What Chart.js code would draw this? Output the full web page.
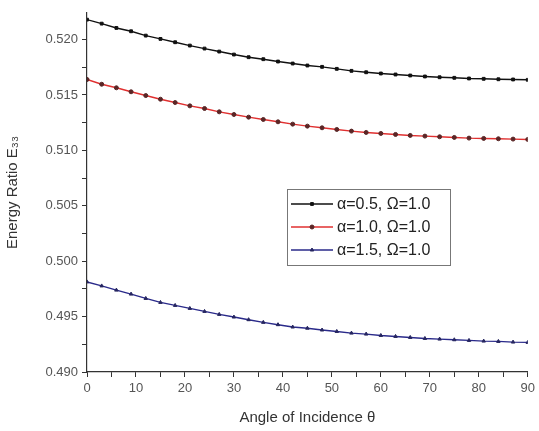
<!DOCTYPE html>
<html>
<head>
<meta charset="utf-8">
<script src="https://cdn.jsdelivr.net/npm/chart.js@4.4.1/dist/chart.umd.min.js"></script>
<style>
  html, body { margin: 0; padding: 0; background: #fff; }
  #wrap { width: 539px; height: 431px; position: relative; }
</style>
</head>
<body>
<div id="wrap"><canvas id="chart" width="539" height="431"></canvas></div>
<script>
// Energy ratio E33 vs angle of incidence, three alpha values
const angles = [0, 3, 6, 9, 12, 15, 18, 21, 24, 27, 30, 33, 36, 39, 42, 45,
                48, 51, 54, 57, 60, 63, 66, 69, 72, 75, 78, 81, 84, 87, 90];
const alpha05 = [0.52180, 0.52144, 0.52105, 0.52075, 0.52036, 0.52006, 0.51976, 0.51946,
                 0.51919, 0.51892, 0.51865, 0.51841, 0.51823, 0.51802, 0.51784, 0.51766,
                 0.51754, 0.51736, 0.51718, 0.51705, 0.51694, 0.51685, 0.51676, 0.51667,
                 0.51660, 0.51655, 0.51649, 0.51646, 0.51642, 0.51640, 0.51637];
const alpha10 = [0.51640, 0.51597, 0.51565, 0.51529, 0.51495, 0.51462, 0.51432, 0.51402,
                 0.51378, 0.51348, 0.51324, 0.51300, 0.51279, 0.51258, 0.51237, 0.51219,
                 0.51204, 0.51189, 0.51174, 0.51162, 0.51153, 0.51144, 0.51135, 0.51129,
                 0.51123, 0.51117, 0.51111, 0.51108, 0.51105, 0.51102, 0.51099];
const alpha15 = [0.49813, 0.49777, 0.49739, 0.49703, 0.49664, 0.49628, 0.49601, 0.49574,
                 0.49547, 0.49520, 0.49496, 0.49472, 0.49448, 0.49427, 0.49406, 0.49395,
                 0.49379, 0.49366, 0.49351, 0.49342, 0.49330, 0.49321, 0.49312, 0.49303,
                 0.49297, 0.49291, 0.49285, 0.49279, 0.49276, 0.49270, 0.49267];
const seriesLabels = ['\u03B1=0.5, \u03A9=1.0', '\u03B1=1.0, \u03A9=1.0', '\u03B1=1.5, \u03A9=1.0'];
const seriesColors = ['#111111', '#e03030', '#2a2a8a'];
const markerColors = ['#111111', '#5a2626', '#262660'];
const markerShapes = ['rect', 'circle', 'triangle'];

const FONT = "'Liberation Sans', Arial, sans-serif";

function pts(vals) { return angles.map((a, i) => ({ x: a, y: vals[i] })); }

// legend drawn inside the plot area, like the original
const boxLegend = {
    id: 'boxLegend',
    afterDraw(chart) {
        const ctx = chart.ctx;
        const x0 = 287, y0 = 189, w = 163, h = 76, rowH = 23;
        ctx.save();
        ctx.fillStyle = '#fff';
        ctx.fillRect(x0, y0, w, h);
        ctx.strokeStyle = '#777';
        ctx.lineWidth = 1;
        ctx.strokeRect(x0 + 0.5, y0 + 0.5, w, h);
        ctx.font = '16px ' + FONT;
        ctx.textBaseline = 'middle';
        chart.data.datasets.forEach((ds, i) => {
            const cy = y0 + 15 + i * rowH;
            ctx.strokeStyle = ds.borderColor;
            ctx.lineWidth = 1.4;
            ctx.beginPath();
            ctx.moveTo(x0 + 4, cy);
            ctx.lineTo(x0 + 46, cy);
            ctx.stroke();
            ctx.fillStyle = ds.pointBackgroundColor;
            ctx.strokeStyle = ds.pointBorderColor;
            ctx.lineWidth = 1;
            Chart.helpers.drawPoint(ctx, { pointStyle: ds.pointStyle, radius: 2, borderWidth: 1 }, x0 + 25, cy);
            ctx.fillStyle = '#222';
            ctx.fillText(ds.label, x0 + 50, cy + 1);
        });
        ctx.restore();
    }
};

const datasets = [alpha05, alpha10, alpha15].map((vals, i) => ({
    label: seriesLabels[i],
    data: pts(vals),
    borderColor: seriesColors[i],
    borderWidth: 1.4,
    pointStyle: markerShapes[i],
    pointRadius: 2,
    pointBackgroundColor: markerColors[i],
    pointBorderColor: markerColors[i],
    pointBorderWidth: 1,
    tension: 0
}));

new Chart(document.getElementById('chart').getContext('2d'), {
    type: 'line',
    data: { datasets },
    plugins: [boxLegend],
    options: {
        responsive: false,
        animation: false,
        layout: { padding: { top: 13, right: 10, left: 0, bottom: 0 } },
        plugins: { legend: { display: false }, tooltip: { enabled: false } },
        scales: {
            x: {
                type: 'linear', min: 0, max: 90,
                afterFit(s) { s.height = 59; },
                border: { color: '#333', width: 1.2 },
                grid: { drawOnChartArea: false, tickLength: 5, color: '#333' },
                ticks: {
                    stepSize: 5, autoSkip: false, maxRotation: 0, padding: 4,
                    color: '#555', font: { family: FONT, size: 13 },
                    callback: v => (v % 10 === 0 ? v : '')
                },
                title: { display: true, text: 'Angle of Incidence \u03B8', color: '#333',
                         font: { family: FONT, size: 15 }, padding: { top: 4 } }
            },
            y: {
                type: 'linear', min: 0.490, max: 0.5224,
                afterFit(s) { s.width = 87; },
                border: { color: '#333', width: 1.2 },
                grid: { drawOnChartArea: false, tickLength: 5, color: '#333' },
                ticks: {
                    stepSize: 0.0025, includeBounds: false, autoSkip: false, padding: 4,
                    color: '#555', font: { family: FONT, size: 13 },
                    callback: v => (Math.abs(v * 200 - Math.round(v * 200)) < 1e-6 ? v.toFixed(3) : '')
                },
                title: { display: true, text: 'Energy Ratio E\u2083\u2083', color: '#333',
                         font: { family: FONT, size: 15 }, padding: { bottom: 6 } }
            }
        }
    }
});
</script>
</body>
</html>
